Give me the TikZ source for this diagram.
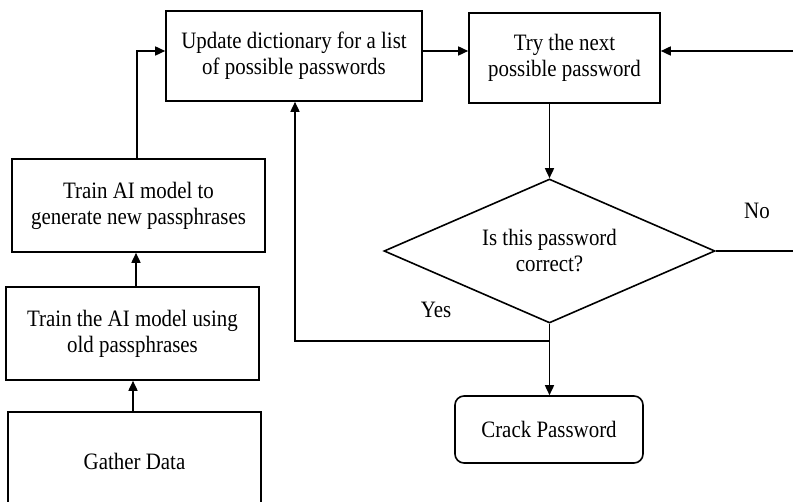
\documentclass[tikz,border=0pt]{standalone}
\usepackage{fontspec}
\setmainfont{Liberation Serif}[FakeStretch=0.89]
\usetikzlibrary{shapes.geometric,arrows.meta}
\begin{document}
\begin{tikzpicture}[x=1pt,y=-1pt,
  every node/.style={font=\fontsize{23.5}{26}\selectfont},
  box/.style={draw,line width=1.6pt,align=center,inner sep=0pt},
  arr/.style={line width=1.6pt,-{Triangle[length=10pt,width=9pt]}},
  ln/.style={line width=1.6pt},
  lbl/.style={inner sep=0pt}]
\useasboundingbox (0,0) rectangle (793,502);
\clip (0,0) rectangle (793,502);
\node[box,minimum width=256pt,minimum height=90pt] (upd) at (294,56) {Update dictionary for a list\\of possible passwords};
\node[box,minimum width=191pt,minimum height=90pt] (try) at (564.5,58) {Try the next\\possible password};
\node[box,minimum width=253pt,minimum height=93pt] (gen) at (138.5,205.5) {Train AI model to\\generate new passphrases};
\node[box,minimum width=253pt,minimum height=93pt] (old) at (132.5,333.5) {Train the AI model using\\old passphrases};
\node[box,minimum width=253pt,minimum height=98pt] (gather) at (134.5,461) {Gather Data};
\node[draw,line width=1.6pt,shape=diamond,shape aspect=2.3,minimum width=331pt,minimum height=144pt,inner sep=0pt,align=center] (dia) at (549.5,251) {Is this password\\correct?};
\node[box,rounded corners=9pt,minimum width=188pt,minimum height=67pt] (crack) at (549,429.5) {Crack Password};
\node[lbl] (no) at (757,211) {No};
\node[lbl] (yes) at (436,310) {Yes};
\coordinate (j) at (549.5,341);
\draw[arr] ([xshift=-1.5pt]gather.north) -- ([xshift=-1.5pt]gather.north |- old.south);
\draw[arr] ([xshift=3.5pt]old.north) -- ([xshift=3.5pt]old.north |- gen.south);
\draw[arr] ([xshift=-1.5pt]gen.north) |- ([yshift=5pt]upd.west);
\draw[arr] ([yshift=5pt]upd.east) -- ([yshift=5pt]upd.east -| try.west);
\draw[arr] (try.south -| dia.north) -- (dia.north);
\draw[arr] (dia.east) -- ++(95,0) |- ([yshift=7pt]try.east);
\draw[ln] (dia.south) -- (j);
\draw[arr] (j) -| ([xshift=1pt]upd.south);
\draw[arr] (j) -- (j |- crack.north);
\end{tikzpicture}
\end{document}
